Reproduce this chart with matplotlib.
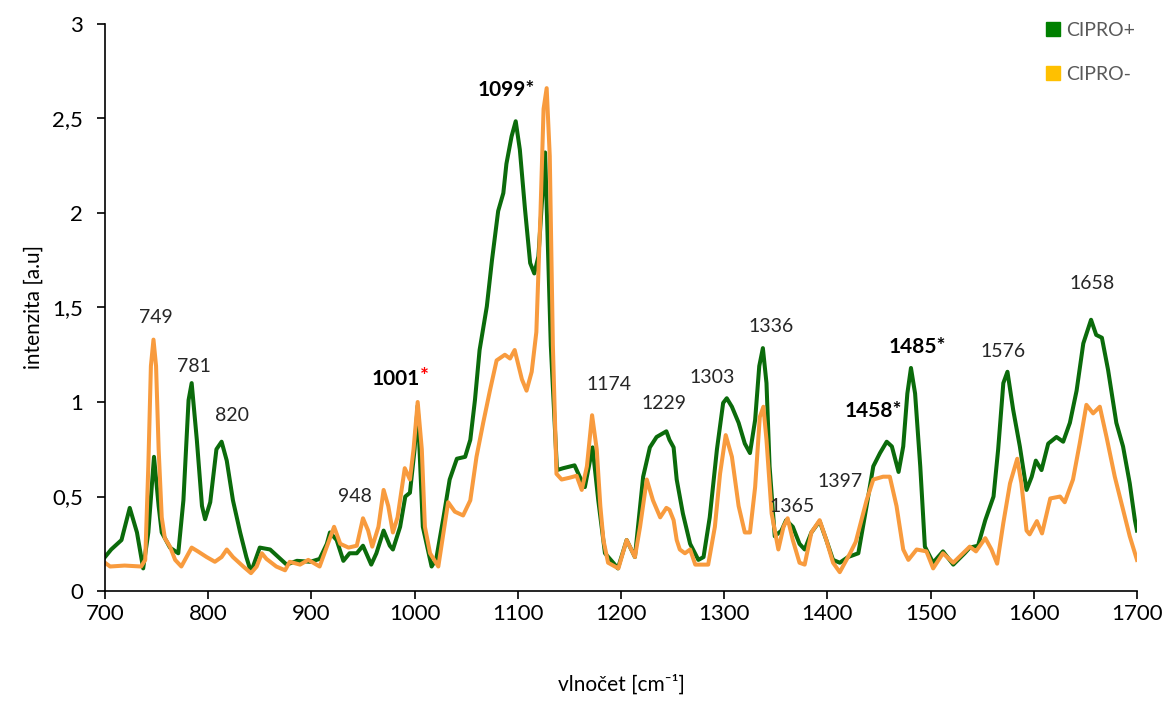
import numpy as np
import matplotlib
matplotlib.use('Agg')
import matplotlib.pyplot as plt
from matplotlib.ticker import FuncFormatter, MultipleLocator

###############################################################################
# Plot style
###############################################################################
plt.rcParams['font.family'] = ['Lato', 'DejaVu Sans']
plt.rcParams['axes.edgecolor'] = '#000000'
plt.rcParams['xtick.color'] = '#000000'
plt.rcParams['ytick.color'] = '#000000'

#-----------------------------------------------------------------------------
# Spectra
#-----------------------------------------------------------------------------
x_plus = [700, 706, 716, 724, 731, 737, 742, 747.5, 752, 755, 763, 771, 776, 781, 784,
          789, 794, 797, 802, 808, 813, 818, 824, 831, 837, 841.5, 850, 860, 870, 876,
          886, 899, 908, 915, 918, 924.5, 931, 937, 944, 950, 958, 963, 970, 976, 979,
          986, 991, 995.5, 1000, 1003, 1008, 1016.5, 1021, 1028, 1034, 1041, 1049, 1054,
          1058.5, 1063, 1070, 1075, 1081, 1086, 1089, 1094, 1098, 1102, 1107, 1112, 1116,
          1120, 1126.5, 1132, 1138, 1144, 1155, 1160, 1165, 1172.5, 1178, 1184.5, 1192.5,
          1197, 1205.5, 1213.5, 1221.5, 1228, 1234.5, 1244, 1247, 1251, 1254, 1260, 1267,
          1275, 1280, 1286, 1293, 1299, 1302.5, 1307.5, 1314, 1320, 1325, 1330, 1334,
          1337.5, 1341, 1344, 1349, 1355.5, 1360, 1366.5, 1373, 1378, 1384.5, 1392.5, 1399,
          1405.5, 1412, 1420, 1430, 1438, 1444.5, 1451, 1457.5, 1462.5, 1469, 1473.5,
          1477.5, 1481, 1485, 1490, 1494.5, 1502.5, 1512, 1522, 1533, 1538, 1546, 1553,
          1561, 1565.5, 1570.5, 1574.5, 1580, 1586.5, 1593, 1598, 1602, 1607.5, 1614, 1622,
          1628.5, 1635, 1641.5, 1648, 1655.5, 1660.5, 1666, 1672, 1680, 1686.5, 1693, 1698,
          1700]
y_plus = [0.18, 0.22, 0.27, 0.44, 0.31, 0.12, 0.31, 0.71, 0.45, 0.31, 0.23, 0.20, 0.48, 1.01, 1.10,
          0.80, 0.45, 0.38, 0.47, 0.75, 0.79, 0.69, 0.48, 0.31, 0.18, 0.10, 0.23, 0.22, 0.17, 0.14,
          0.16, 0.155, 0.17, 0.25, 0.31, 0.27, 0.16, 0.20, 0.20, 0.24, 0.14, 0.20, 0.32, 0.24, 0.22,
          0.34, 0.50, 0.52, 0.75, 0.98, 0.34, 0.13, 0.17, 0.39, 0.59, 0.70, 0.71, 0.80,
          1.01, 1.275, 1.505, 1.75, 2.01, 2.105, 2.26, 2.405, 2.485, 2.335, 2.02, 1.735, 1.68,
          1.77, 2.32, 1.30, 0.64, 0.65, 0.665, 0.605, 0.55, 0.76, 0.48, 0.20, 0.15,
          0.12, 0.27, 0.18, 0.605, 0.76, 0.815, 0.845, 0.80, 0.76, 0.59, 0.41, 0.25,
          0.165, 0.18, 0.39, 0.75, 0.995, 1.02, 0.975, 0.89, 0.78, 0.73, 0.905, 1.19,
          1.285, 1.10, 0.66, 0.29, 0.32, 0.375, 0.34, 0.25, 0.22, 0.31, 0.37, 0.27,
          0.165, 0.15, 0.18, 0.20, 0.45, 0.66, 0.73, 0.79, 0.765, 0.63, 0.765,
          1.045, 1.18, 1.045, 0.66, 0.235, 0.15, 0.21, 0.14, 0.20, 0.23, 0.24, 0.375,
          0.50, 0.75, 1.10, 1.16, 0.96, 0.765, 0.535, 0.605, 0.69, 0.64, 0.78, 0.815,
          0.79, 0.89, 1.06, 1.31, 1.435, 1.355, 1.34, 1.17, 0.89, 0.765, 0.57, 0.375,
          0.32]

x_minus = [700, 705, 719, 735, 739, 742, 744.5, 747, 749.5, 752, 755, 758, 763, 768, 774,
           779, 784, 790, 798.5, 806.5, 813, 818, 824, 834, 841.5, 847, 852, 856.5, 866,
           874.5, 879, 889, 897, 908, 915, 922, 928, 936, 944, 950, 955, 959, 965, 970,
           974.5, 979, 983.5, 990.5, 995.5, 999, 1003, 1007, 1010, 1015, 1023, 1028, 1032.5,
           1039, 1047, 1054, 1060, 1066.5, 1073, 1079.5, 1087.5, 1092.5, 1097, 1104, 1108.5,
           1113.5, 1118, 1122, 1125, 1128, 1131, 1134, 1137.5, 1142.5, 1150.5, 1157, 1162,
           1167, 1172, 1176.5, 1180, 1183, 1187.5, 1197.5, 1205.5, 1213.5, 1218.5, 1225,
           1231, 1238, 1244, 1247, 1251, 1254, 1257, 1262, 1267, 1272, 1284.5, 1291, 1296,
           1301.5, 1307.5, 1314, 1320, 1325, 1330, 1334.5, 1338, 1341, 1346, 1352.5, 1357.5,
           1361.5, 1366.5, 1373, 1378, 1384.5, 1392.5, 1399, 1405.5, 1412, 1422, 1427.5,
           1438, 1444.5, 1454, 1460.5, 1467, 1473.5, 1478.5, 1486.5, 1496, 1502.5, 1512,
           1522, 1531.5, 1538, 1544, 1553, 1559, 1564.5, 1570.5, 1577, 1584, 1588, 1593,
           1596, 1603, 1608, 1616, 1625.5, 1630, 1638, 1644.5, 1651, 1657.5, 1664, 1670.5,
           1678.5, 1686.5, 1693, 1700]
y_minus = [0.15, 0.13, 0.135, 0.13, 0.165, 0.66, 1.19, 1.33, 1.19, 0.75, 0.39, 0.28, 0.235, 0.165, 0.13,
           0.18, 0.23, 0.21, 0.18, 0.155, 0.18, 0.22, 0.18, 0.13, 0.095, 0.13, 0.20, 0.17, 0.13,
           0.11, 0.155, 0.14, 0.165, 0.13, 0.235, 0.34, 0.25, 0.23, 0.24, 0.385, 0.32, 0.235, 0.34, 0.535,
           0.45, 0.31, 0.39, 0.65, 0.59, 0.75, 1.00, 0.75, 0.34, 0.20, 0.13, 0.31, 0.47,
           0.42, 0.40, 0.48, 0.71, 0.89, 1.06, 1.22, 1.25, 1.23, 1.275, 1.12, 1.06,
           1.16, 1.37, 2.00, 2.55, 2.66, 2.30, 1.30, 0.62, 0.59, 0.60, 0.61, 0.535,
           0.66, 0.93, 0.75, 0.45, 0.27, 0.15, 0.12, 0.27, 0.18, 0.34, 0.59,
           0.48, 0.39, 0.44, 0.43, 0.375, 0.27, 0.22, 0.20, 0.22, 0.14, 0.14, 0.34, 0.62,
           0.825, 0.71, 0.45, 0.31, 0.31, 0.55, 0.92, 0.975, 0.80, 0.41, 0.22, 0.34,
           0.385, 0.27, 0.15, 0.14, 0.31, 0.375, 0.27, 0.15, 0.10, 0.20, 0.26,
           0.48, 0.59, 0.605, 0.605, 0.45, 0.22, 0.165, 0.22, 0.21, 0.12, 0.20,
           0.15, 0.20, 0.235, 0.21, 0.28, 0.22, 0.145, 0.36, 0.57, 0.70, 0.57, 0.32,
           0.30, 0.37, 0.305, 0.49, 0.50, 0.47, 0.59, 0.78, 0.985, 0.94, 0.975, 0.815,
           0.605, 0.43, 0.29, 0.165]

# peak labels: text, x, y, bold
peak_text = ['749', '781', '820', '948', '1174', '1229', '1303', '1336', '1365', '1397',
             '1576', '1658', '1099*', '1458*', '1485*']
peak_x = [749, 786, 823, 942, 1188, 1242, 1288, 1345, 1366, 1412, 1570, 1657, 1089, 1445, 1487]
peak_y = [1.445, 1.19, 0.93, 0.50, 1.09, 0.99, 1.13, 1.40, 0.45, 0.58, 1.265, 1.625, 2.65, 0.95, 1.29]
peak_bold = [False]*12 + [True]*3

green = '#0b6b0b'
orange = '#f89b3e'

fig = plt.figure(figsize=(11.69, 7.02), dpi=100)
ax = fig.add_axes([0.0898, 0.158, 0.8828, 0.808])

ax.plot(x_plus, y_plus, color=green, lw=2.9, label='CIPRO+', solid_joinstyle='round')
ax.plot(x_minus, y_minus, color=orange, lw=2.9, label='CIPRO-', solid_joinstyle='round')

for t, px, py, b in zip(peak_text, peak_x, peak_y, peak_bold):
    ax.text(px, py, t, ha='center', va='center', fontsize=15 if b else 14,
            color='#000000' if b else '#262626', fontweight='bold' if b else 'normal')
# 1001 with red star
ax.text(1005, 1.12, '1001', ha='right', va='center', fontsize=15, color='#000000', fontweight='bold')
ax.text(1005, 1.13, '*', ha='left', va='center', fontsize=15, color='#ff0000', fontweight='bold')

ax.set_xlim(700, 1700)
ax.set_ylim(0, 3)
ax.xaxis.set_major_locator(MultipleLocator(100))
ax.yaxis.set_major_locator(MultipleLocator(0.5))
ax.yaxis.set_major_formatter(FuncFormatter(lambda v, p: ('%g' % v).replace('.', ',')))
ax.tick_params(axis='both', labelsize=16, length=6, width=1.2, direction='out')
ax.tick_params(axis='y', pad=10)
for s in ['top', 'right']:
    ax.spines[s].set_visible(False)
ax.spines['left'].set_linewidth(1.2)
ax.spines['bottom'].set_linewidth(1.2)

ax.set_xlabel('vlnočet [cm\u207b\u00b9]', fontsize=15, labelpad=36)
ax.set_ylabel('intenzita [a.u]', fontsize=15, labelpad=6)

# legend with squares, Excel style
h_plus = plt.Line2D([], [], marker='s', color='none', markerfacecolor='#008000',
                    markeredgecolor='#008000', markersize=10)
h_minus = plt.Line2D([], [], marker='s', color='none', markerfacecolor='#ffc000',
                     markeredgecolor='#ffc000', markersize=10)
leg = ax.legend([h_plus, h_minus], ['CIPRO+', 'CIPRO-'], loc='upper left',
                bbox_to_anchor=(0.89, 1.035), frameon=False, fontsize=14,
                labelspacing=1.4, handletextpad=0.1, handlelength=1.2)
for t in leg.get_texts():
    t.set_color('#595959')

plt.savefig('out.png', dpi=100)
